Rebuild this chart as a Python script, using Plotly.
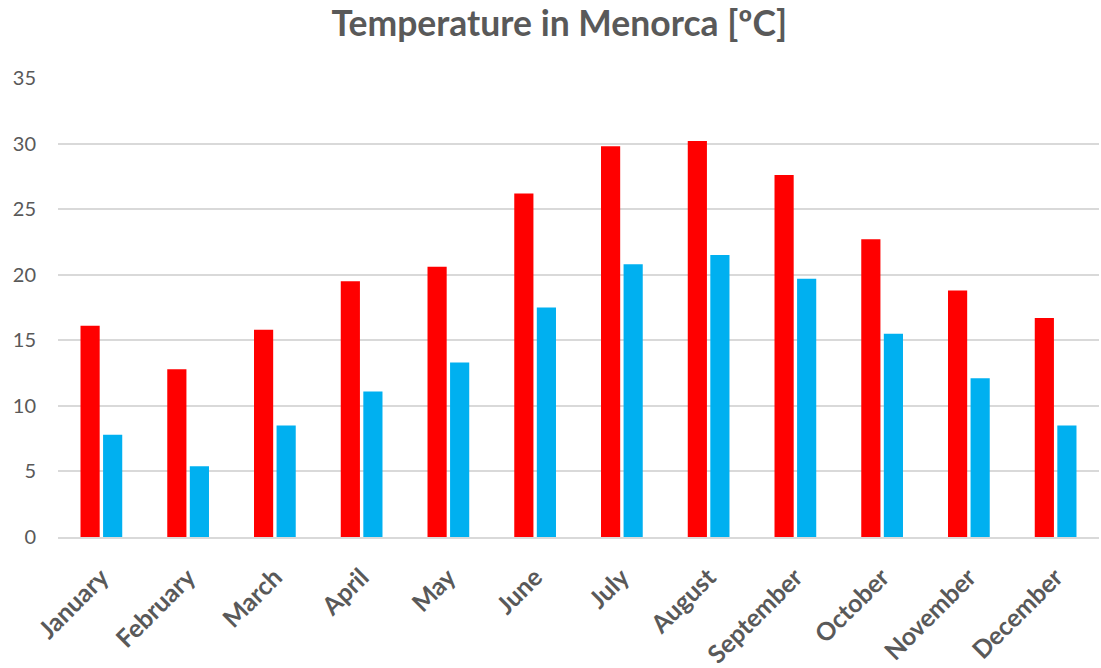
import plotly.graph_objects as go

months = ["January", "February", "March", "April", "May", "June", "July",
          "August", "September", "October", "November", "December"]
# Average daily maximum / minimum temperature (°C)
temp_max = [16.1, 12.8, 15.8, 19.5, 20.6, 26.2, 29.8, 30.2, 27.6, 22.7, 18.8, 16.7]
temp_min = [7.8, 5.4, 8.5, 11.1, 13.3, 17.5, 20.8, 21.5, 19.7, 15.5, 12.1, 8.5]
y_ticks = [0, 5, 10, 15, 20, 25, 30, 35]

fig = go.Figure()
fig.add_trace(go.Bar(x=months, y=temp_max, name="Max", marker_color="#ff0000",
                     marker_line_width=0))
fig.add_trace(go.Bar(x=months, y=temp_min, name="Min", marker_color="#00b0f0",
                     marker_line_width=0))

font_family = "Lato, 'Open Sans', sans-serif"
fig.update_layout(
    width=1101, height=668,
    margin=dict(l=58, r=2, t=78, b=131),
    paper_bgcolor="white", plot_bgcolor="white",
    barmode="group", bargap=0.48, bargroupgap=0.15,
    showlegend=False,
    title=dict(text="<b>Temperature in Menorca [ºC]</b>", x=0.508, xanchor="center",
               y=0.965, yanchor="middle",
               font=dict(family=font_family, size=35.5, color="#595959")),
    font=dict(family=font_family, color="#595959"),
)
fig.update_xaxes(tickangle=-45, automargin=False,
                 tickfont=dict(size=25, color="#595959", family=font_family,
                               weight="bold"),
                 showline=True, linecolor="#d9d9d9", linewidth=1.5,
                 ticks="", showgrid=False, ticklabelstandoff=14)
fig.update_yaxes(range=[0, 35], tickvals=y_ticks, ticks="", showline=False,
                 automargin=False,
                 gridcolor="#d9d9d9", gridwidth=1.5, zeroline=False,
                 tickfont=dict(size=20, color="#595959"), ticklabelstandoff=21)

fig.write_html("out.html")
